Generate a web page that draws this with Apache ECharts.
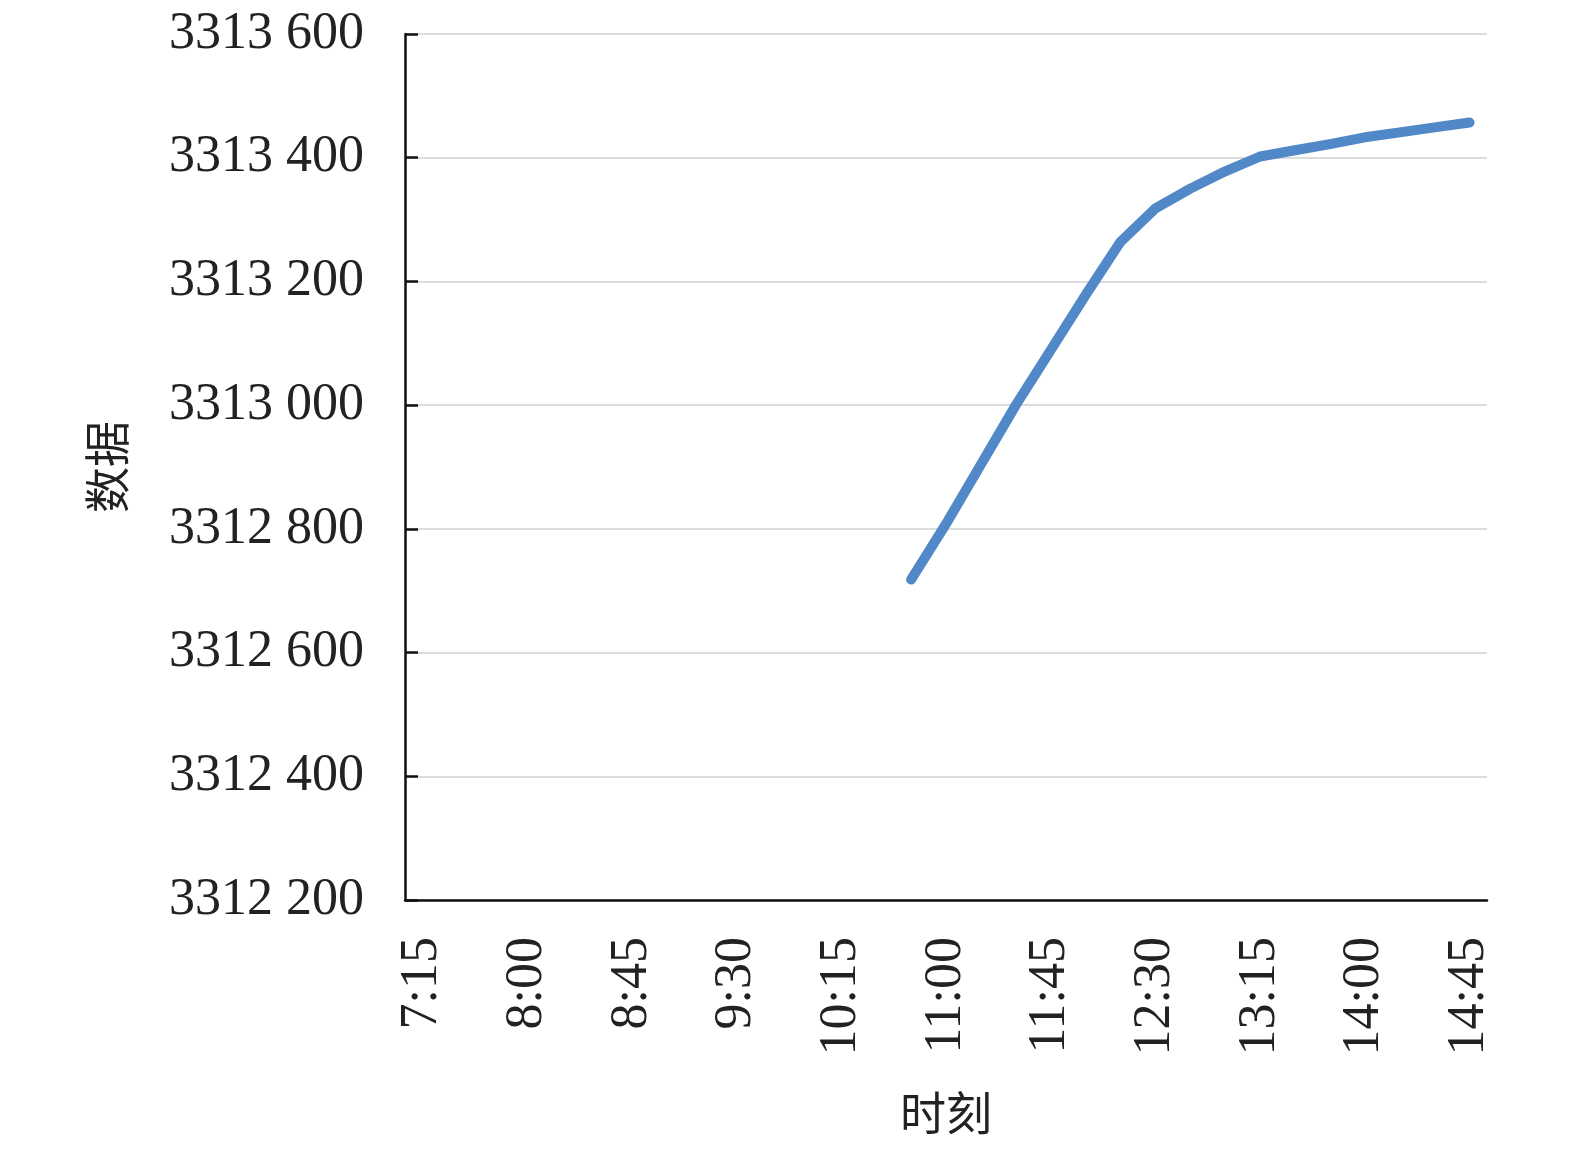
<!DOCTYPE html>
<html>
<head>
<meta charset="utf-8">
<script src="https://cdn.jsdelivr.net/npm/echarts@6/dist/echarts.min.js"></script>
<style>html,body{margin:0;padding:0;background:#fff}#c{width:1575px;height:1149px}</style>
</head>
<body>
<div id="c"></div>
<script>
const categories = ['7:15','7:30','7:45','8:00','8:15','8:30','8:45','9:00','9:15','9:30','9:45','10:00','10:15','10:30','10:45','11:00','11:15','11:30','11:45','12:00','12:15','12:30','12:45','13:00','13:15','13:30','13:45','14:00','14:15','14:30','14:45'];
const values = [null,null,null,null,null,null,null,null,null,null,null,null,null,null,
  3312718,3312808,3312904,3313000,3313089,3313178,3313264,3313318,3313350,3313378,3313402,3313412,3313422,3313433,3313441,3313449,3313457];
const yMin = 3312200, yMax = 3313600, yStep = 200;
const xName = '时刻', yName = '数据';

const chart = echarts.init(document.getElementById('c'));
const serif = '"Liberation Serif","DejaVu Serif",serif';
const cjk = '"Noto Sans CJK SC",sans-serif';
chart.setOption({
  animation: false,
  grid: {left: 405, right: 88, top: 34, bottom: 249, containLabel: false},
  xAxis: {
    type: 'category', data: categories, boundaryGap: true,
    name: xName, nameLocation: 'middle', nameGap: 190,
    nameTextStyle: {fontFamily: cjk, fontSize: 46, color: '#222'},
    axisLine: {lineStyle: {color: '#111', width: 2.5}},
    axisTick: {inside: true, length: 13, interval: 2, alignWithLabel: true, lineStyle: {color: '#111', width: 2.5}},
    axisLabel: {interval: 2, rotate: 90, margin: 37, fontFamily: serif, fontSize: 52, color: '#222'},
    splitLine: {show: false}
  },
  yAxis: {
    type: 'value', min: yMin, max: yMax, interval: yStep,
    name: yName, nameLocation: 'middle', nameGap: 275, nameRotate: 90,
    nameTextStyle: {fontFamily: cjk, fontSize: 46, color: '#222'},
    axisLine: {show: true, lineStyle: {color: '#111', width: 2.5}},
    axisTick: {show: true, inside: true, length: 13, lineStyle: {color: '#111', width: 2.5}},
    axisLabel: {margin: 41, fontFamily: serif, fontSize: 52, color: '#222',
      formatter: v => { const s = String(v); return s.slice(0, s.length-3) + ' ' + s.slice(-3); }},
    splitLine: {show: true, lineStyle: {color: '#dcdcdc', width: 2}}
  },
  series: [{
    type: 'line', data: values, showSymbol: false, connectNulls: false,
    lineStyle: {color: '#5088c8', width: 10, cap: 'round', join: 'round'}
  }]
});
</script>
</body>
</html>
